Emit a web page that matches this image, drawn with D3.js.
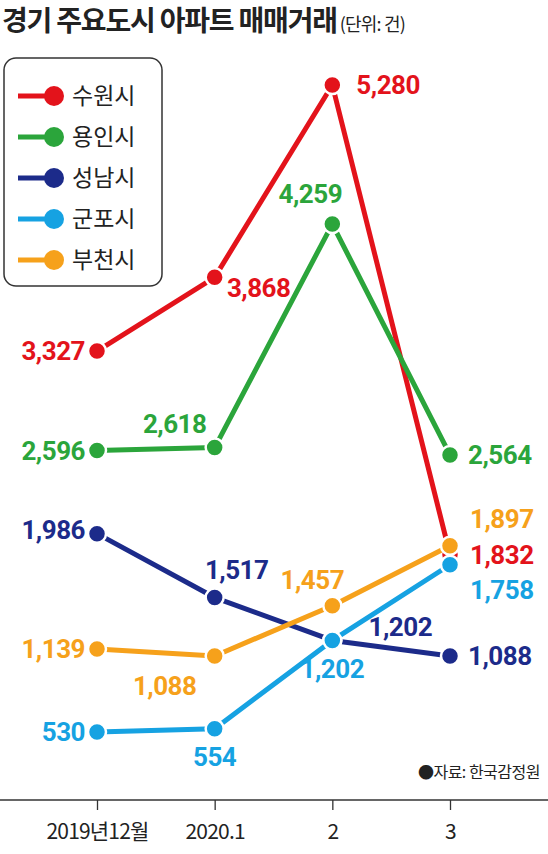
<!DOCTYPE html>
<html><head><meta charset="utf-8">
<script src="https://cdn.jsdelivr.net/npm/d3@7"></script>
<style>body{margin:0;background:#fff}svg{display:block}</style>
</head><body><svg width="548" height="854"></svg>
<script>
const categories = ["2019년12월","2020.1","2","3"];
const seriesNames = ["수원시","용인시","성남시","군포시","부천시"];
const suwon = [3327,3868,5280,1832];
const yongin = [2596,2618,4259,2564];
const seongnam = [1986,1517,1202,1088];
const gunpo = [530,554,1202,1758];
const bucheon = [1139,1088,1457,1897];
const seriesValues = [suwon,yongin,seongnam,gunpo,bucheon];
const colors = ["#e3131b","#2ba53b","#1c2b8a","#16a2e2","#f6a11b"];
const labelPos = [
 [[-12,0,"end"],[44,10,"middle"],[24,0,"start"],[20,0,"start"]],
 [[-12,0,"end"],[-40,-24,"middle"],[-22,-30,"middle"],[18,0,"start"]],
 [[-12,-4,"end"],[22,-28,"middle"],[68,-14,"middle"],[18,0,"start"]],
 [[-12,0,"end"],[0,28,"middle"],[0,28,"middle"],[20,25,"start"]],
 [[-12,0,"end"],[-50,30,"middle"],[-20,-26,"middle"],[20,-27,"start"]]
];
const svg = d3.select("svg");
const x = d3.scalePoint().domain(categories).range([97,450]);
const y = d3.scaleLinear().domain([530,5280]).range([732,85]);
const font = "Roboto, 'Noto Sans CJK KR', sans-serif";

svg.append("text").attr("x",2).attr("y",31).attr("font-family","'Noto Sans CJK KR'")
 .attr("font-weight",700).attr("font-size",28).attr("letter-spacing",-1.2).attr("fill","#222")
 .text("경기 주요도시 아파트 매매거래")
 .append("tspan").attr("font-size",18).attr("font-weight",400).attr("dx",3).attr("letter-spacing",-0.8).text("(단위: 건)");

const ax = svg.append("g").attr("transform","translate(0,800)")
 .call(d3.axisBottom(x).tickSize(10).tickPadding(14));
ax.select(".domain").remove();
ax.insert("line",":first-child").attr("x1",0).attr("x2",548).attr("stroke","#333").attr("stroke-width",1.3);
ax.selectAll(".tick line").attr("stroke","#333").attr("stroke-width",1.3);
ax.selectAll(".tick text").attr("font-family","'Noto Sans CJK KR'").attr("font-size",21).attr("fill","#222").attr("letter-spacing",-0.8);

const line = d3.line().x((d,i)=>x(categories[i])).y(d=>y(d));
seriesValues.forEach((vals,s)=>{
  const g = svg.append("g");
  g.append("path").attr("d",line(vals)).attr("fill","none").attr("stroke",colors[s]).attr("stroke-width",5).attr("stroke-linejoin","round");
  vals.forEach((v,i)=>{
    g.append("circle").attr("cx",x(categories[i])).attr("cy",y(v)).attr("r",9).attr("fill",colors[s]).attr("stroke","#fff").attr("stroke-width",2.5);
  });
});
seriesValues.forEach((vals,s)=>{
  vals.forEach((v,i)=>{
    const p = labelPos[s][i];
    svg.append("text").attr("x",x(categories[i])+p[0]).attr("y",y(v)+p[1]).attr("dy","0.36em")
     .attr("text-anchor",p[2]).attr("font-family",font).attr("font-weight",700).attr("font-size",26)
     .attr("letter-spacing",-0.5).attr("fill",colors[s]).text(d3.format(",")(v));
  });
});

svg.append("rect").attr("x",4).attr("y",58).attr("width",158).attr("height",228).attr("rx",12)
 .attr("fill","#fff").attr("stroke","#333").attr("stroke-width",1.5);
seriesNames.forEach((n,s)=>{
  const yy = 96 + s*41;
  svg.append("line").attr("x1",18).attr("x2",56).attr("y1",yy).attr("y2",yy).attr("stroke",colors[s]).attr("stroke-width",5);
  svg.append("circle").attr("cx",54).attr("cy",yy).attr("r",10).attr("fill",colors[s]);
  svg.append("text").attr("x",72).attr("y",yy).attr("dy","0.36em").attr("font-family","'Noto Sans CJK KR'")
   .attr("font-size",23).attr("fill","#222").text(n);
});

svg.append("text").attr("x",540).attr("y",778).attr("text-anchor","end").attr("font-family","'Noto Sans CJK KR'")
 .attr("font-size",16).attr("letter-spacing",-0.5).attr("fill","#222").text("●자료: 한국감정원");
</script></body></html>
